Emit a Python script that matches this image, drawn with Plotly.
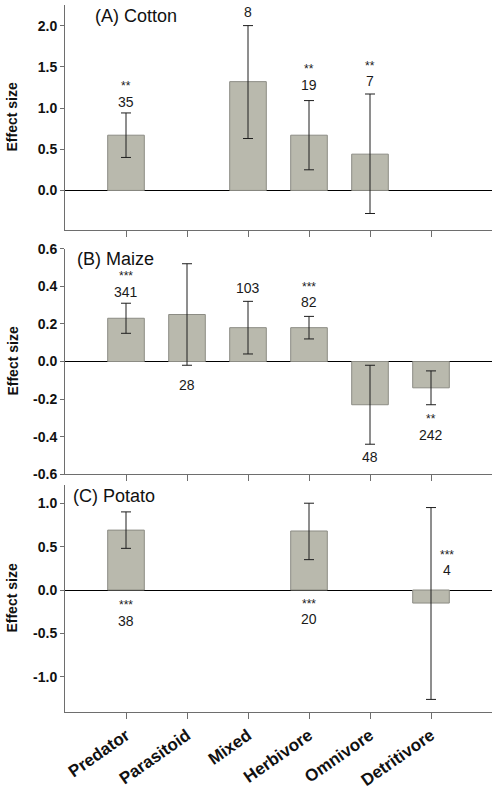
import plotly.graph_objects as go

categories = ["Predator", "Parasitoid", "Mixed", "Herbivore", "Omnivore", "Detritivore"]

# (A) Cotton
cotton_mean = [0.67, None, 1.32, 0.67, 0.44, None]
cotton_upper = [0.94, None, 2.00, 1.09, 1.17, None]
cotton_lower = [0.40, None, 0.63, 0.25, -0.28, None]
cotton_n = ["35", "", "8", "19", "7", ""]
cotton_sig = ["**", "", "", "**", "**", ""]
cotton_yticks = [0.0, 0.5, 1.0, 1.5, 2.0]

# (B) Maize
maize_mean = [0.23, 0.25, 0.18, 0.18, -0.23, -0.14]
maize_upper = [0.31, 0.52, 0.32, 0.24, -0.02, -0.05]
maize_lower = [0.15, -0.02, 0.04, 0.12, -0.44, -0.23]
maize_n = ["341", "28", "103", "82", "48", "242"]
maize_sig = ["***", "", "", "***", "", "**"]
maize_yticks = [-0.6, -0.4, -0.2, 0.0, 0.2, 0.4, 0.6]

# (C) Potato
potato_mean = [0.69, None, None, 0.68, None, -0.15]
potato_upper = [0.90, None, None, 1.00, None, 0.95]
potato_lower = [0.48, None, None, 0.35, None, -1.26]
potato_n = ["38", "", "", "20", "", "4"]
potato_sig = ["***", "", "", "***", "", "***"]
potato_yticks = [-1.0, -0.5, 0.0, 0.5, 1.0]

titles = ["(A) Cotton", "(B) Maize", "(C) Potato"]

# label placement (text positions, in axis units)
cotton_n_y = [1.07, None, 2.16, 1.28, 1.33, None]
cotton_sig_y = [1.30, None, None, 1.51, 1.55, None]
maize_n_y = [0.371, -0.126, 0.389, 0.314, -0.508, -0.393]
maize_sig_y = [0.469, None, None, 0.412, None, -0.291]
potato_n_y = [-0.356, None, None, -0.337, None, 0.23]
potato_sig_y = [-0.134, None, None, -0.126, None, 0.44]
potato_label_dx = [0, 0, 0, 0, 0, 0.26]

xpos = list(range(len(categories)))

BAR_FILL = "#b9b9ad"
BAR_LINE = "#8c8c84"
AXIS_COL = "#6e6e6e"
FONT = "Liberation Sans, Arial, sans-serif"

panels = [
    (cotton_mean, cotton_upper, cotton_lower, cotton_n, cotton_sig, cotton_n_y, cotton_sig_y, [0] * 6, cotton_yticks),
    (maize_mean, maize_upper, maize_lower, maize_n, maize_sig, maize_n_y, maize_sig_y, [0] * 6, maize_yticks),
    (potato_mean, potato_upper, potato_lower, potato_n, potato_sig, potato_n_y, potato_sig_y, potato_label_dx, potato_yticks),
]

domains = [[0.6818, 1.0], [0.3362, 0.6553], [0.0, 0.3211]]
yranges = [[-0.48, 2.25], [-0.6, 0.6], [-1.405, 1.21]]
title_pos = [(0.065, 0.951), (0.024, 0.956), (0.014, 0.953)]

fig = go.Figure()
annotations = []
for i, (mean, up, lo, ns, sig, ny, sy, dx, yt) in enumerate(panels):
    k = "" if i == 0 else str(i + 1)
    plus = [(u - m) if m is not None else None for m, u in zip(mean, up)]
    minus = [(m - l) if m is not None else None for m, l in zip(mean, lo)]
    fig.add_trace(go.Bar(
        x=xpos, y=mean, width=0.6,
        marker=dict(color=BAR_FILL, line=dict(color=BAR_LINE, width=1)),
        error_y=dict(type="data", symmetric=False, array=plus, arrayminus=minus,
                     color="#1e1e1e", thickness=1, width=5),
        xaxis="x" + k, yaxis="y" + k, showlegend=False, hoverinfo="skip",
    ))
    for j in range(len(categories)):
        if ns[j]:
            annotations.append(dict(x=xpos[j] + dx[j], y=ny[j], xref="x" + k, yref="y" + k,
                                    text=ns[j], showarrow=False, yanchor="middle",
                                    font=dict(family=FONT, size=14, color="#1a1a1a")))
        if sig[j]:
            annotations.append(dict(x=xpos[j] + dx[j], y=sy[j], xref="x" + k, yref="y" + k,
                                    text=sig[j], showarrow=False, yanchor="middle", yshift=-3,
                                    font=dict(family=FONT, size=12, color="#1a1a1a")))
    tx, ty = title_pos[i]
    annotations.append(dict(x=tx, y=ty, xref="x" + k + " domain", yref="y" + k + " domain",
                            text=titles[i], showarrow=False, xanchor="left", yanchor="middle",
                            font=dict(family=FONT, size=18, color="#111")))
    annotations.append(dict(x=-0.124, y=0.5, xref="paper", yref="y" + k + " domain",
                            text="<b>Effect size</b>", showarrow=False, textangle=-90,
                            xanchor="center", yanchor="middle",
                            font=dict(family=FONT, size=14, color="#111")))

    xa = dict(domain=[0, 1], anchor="y" + k, range=[-1, 6], automargin=False,
              tickmode="array", tickvals=xpos, ticktext=categories,
              showline=True, linecolor=AXIS_COL, linewidth=1,
              ticks="outside", ticklen=6, tickcolor=AXIS_COL,
              showgrid=False, zeroline=False,
              showticklabels=(i == 2), tickangle=-35,
              tickfont=dict(family=FONT, size=17, color="#111", weight="bold"))
    ya = dict(domain=domains[i], anchor="x" + k, range=yranges[i], automargin=False,
              tickmode="array", tickvals=yt, ticktext=[f"{v:.1f}" for v in yt],
              showline=True, linecolor=AXIS_COL, linewidth=1,
              ticks="outside", ticklen=4, tickcolor=AXIS_COL,
              showgrid=False, zeroline=True, zerolinecolor="#000", zerolinewidth=1,
              tickfont=dict(family=FONT, size=14, color="#111", weight="bold"))
    fig.layout["xaxis" + k] = xa
    fig.layout["yaxis" + k] = ya

fig.update_layout(
    width=498, height=792,
    margin=dict(l=65, r=6, t=5, b=80, autoexpand=False),
    plot_bgcolor="white", paper_bgcolor="white",
    annotations=annotations,
)

fig.write_html("out.html",
               config={"displayModeBar": False},
               post_script="document.body.style.margin='0px';document.body.style.overflow='hidden';")
